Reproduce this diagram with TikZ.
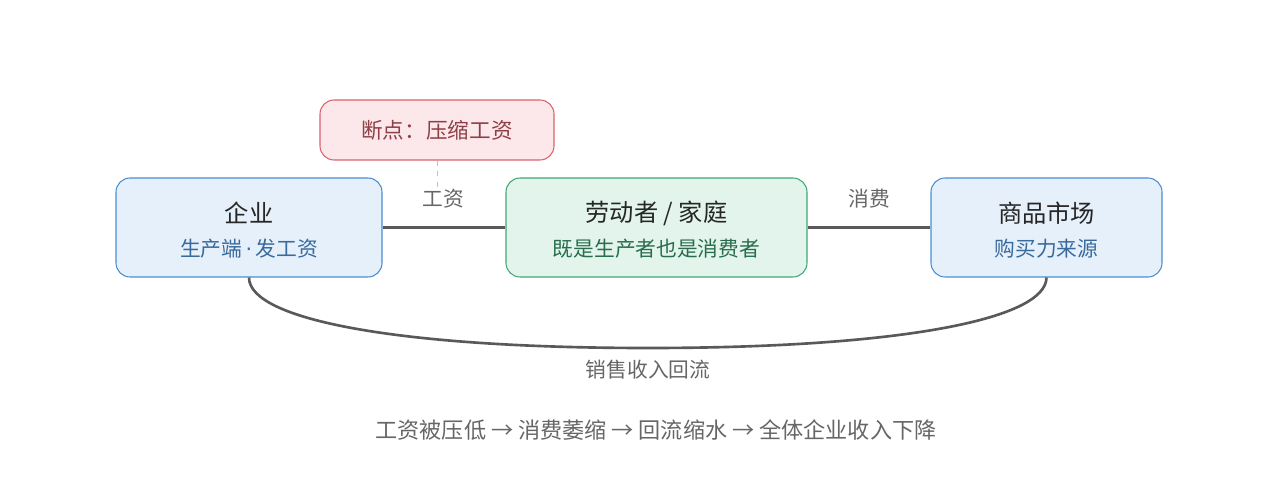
\documentclass[tikz,border=0pt]{standalone}
\usepackage{fontspec}
\setmainfont{Noto Sans CJK SC}
\newfontfamily\dvs{DejaVu Sans}
\begin{document}
\begin{tikzpicture}[x=0.02cm,y=-0.02cm,
 box/.style={draw,rounded corners=8pt,line width=0.6pt,align=center},
 ttl/.style={font=\fontsize{13.8}{16}\selectfont,text=black!85},
 sub/.style={font=\fontsize{11.8}{14}\selectfont},
 lbl/.style={font=\fontsize{11.8}{14}\selectfont,text=black!60},
 link/.style={draw=black!65,line width=1.5pt}]
\useasboundingbox (0,0) rectangle (1278,493);
\definecolor{bfill}{HTML}{E6F0FB}\definecolor{bdraw}{HTML}{4A8DD0}
\definecolor{gfill}{HTML}{E2F4EC}\definecolor{gdraw}{HTML}{3FA877}
\definecolor{rfill}{HTML}{FCE8EA}\definecolor{rdraw}{HTML}{D9626E}
\node[box,fill=bfill,draw=bdraw,minimum width=266*0.02cm,minimum height=99*0.02cm] (firm) at (249,227.5) {};
\node[ttl] at (249,213) {企业};
\node[sub,text=bdraw!75!black] at (249,249) {生产端{\dvs\,·\,}发工资};
\node[box,fill=gfill,draw=gdraw,minimum width=301*0.02cm,minimum height=99*0.02cm] (home) at (656.5,227.5) {};
\node[ttl] at (656.5,213) {劳动者 / 家庭};
\node[sub,text=gdraw!65!black] at (656.5,249) {既是生产者也是消费者};
\node[box,fill=bfill,draw=bdraw,minimum width=231*0.02cm,minimum height=99*0.02cm] (mkt) at (1046.5,227.5) {};
\node[ttl] at (1046.5,213) {商品市场};
\node[sub,text=bdraw!75!black] at (1046.5,249) {购买力来源};
\node[box,fill=rfill,draw=rdraw,minimum width=234*0.02cm,minimum height=60*0.02cm,font=\fontsize{12.3}{14}\selectfont,text=rdraw!65!black] (brk) at (437,130) {断点：压缩工资};
\coordinate (dend) at (437,192);
\draw[black!25,dashed,line width=0.5pt] (brk.south) -- (dend);
\draw[link] (firm.east) -- (home.west);
\draw[link] (home.east) -- (mkt.west);
\node[lbl] at (443,199) {工资};
\node[lbl] at (869,199) {消费};
\draw[link] (firm.south) .. controls (249,320) and (400,348) .. (648,348) .. controls (896,348) and (1046,320) .. (mkt.south);
\node[lbl] at (648,370) {销售收入回流};
\node[font=\fontsize{12.6}{15}\selectfont,text=black!60] at (656,430) {工资被压低 → 消费萎缩 → 回流缩水 → 全体企业收入下降};
\end{tikzpicture}
\end{document}
